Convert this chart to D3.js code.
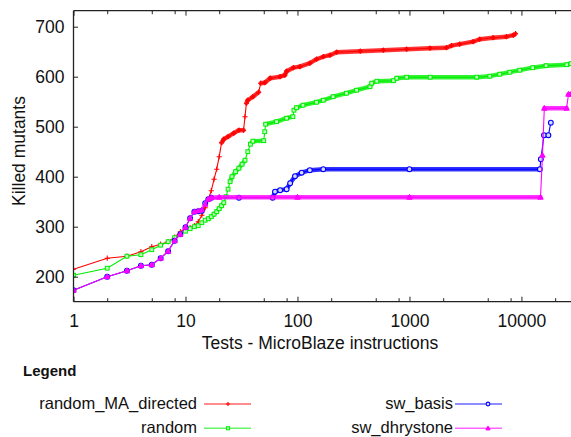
<!DOCTYPE html>
<html>
<head>
<meta charset="utf-8">
<script src="https://cdn.jsdelivr.net/npm/d3@7"></script>
<style>
  html, body { margin: 0; padding: 0; background: #fff; }
  svg { display: block; font-family: "Liberation Sans", Arial, sans-serif; }
</style>
</head>
<body>
<svg id="chart" width="571" height="437"></svg>
<script>
// ---------------- data ----------------
const seriesNames = ["random_MA_directed", "random", "sw_basis", "sw_dhrystone"];
const seriesColors = ["#ff0000", "#00ee00", "#0000ff", "#ff00ff"];

const redX = [1,2,3,4,5,6,7,8,9,10,11,12,13,14,15,16,17,18,19,20,21,22,24,27,30,33,34,35,36,40,45,47,51,57,70,77,80,92,105,129,148,170,195,224,364,585,942,1525,2140,2370,2810,3700,4240,5580,7340,8470,8850];
const redY = [215,237,241,250,260,265,270,279,290,297,298,302,310,323,338,355,372,395,415,440,468,475,480,487,493,493,520,547,553,560,569,587,588,597,600,603,611,618,620,627,635,640,643,649,651,653,655,657,658,662,665,670,675,678,680,683,686];

const greenX = [1,2,3,4,5,6,7,8,9,10,11,12,13,14,15,16,17,18,19,20,21,22,23,24,25,26,28,30,32,34,36,38,40,50,51,52,65,80,91,93,98,112,148,170,208,274,337,444,460,511,720,770,945,1530,3990,5220,6400,7870,9660,12600,16600,25400,27700];
const greenY = [203,217,241,244,254,263,270,278,285,291,296,300,302,308,313,316,320,325,330,336,342,348,360,375,390,400,410,417,425,433,450,465,471,472,490,505,510,517,520,533,538,543,549,553,560,567,573,580,587,591,592,597,599,599,599,601,605,609,613,618,622,624,626];

const blueX = [1,2,3,4,5,6,7,8,9,10,11,12,13,14,15,16,17,30,60,63,70,80,86,95,109,129,170,1000,14600,14900,15900,17400,18300];
const blueY = [173,200,212,222,224,237,251,272,285,299,317,330,331,332,347,355,358,358,358,370,373,375,387,401,408,413,415,415,415,435,483,483,508];

const magentaX = [1,2,3,4,5,6,7,8,9,10,11,12,13,14,15,16,17,20,100,1000,14800,15400,16000,25300,26300,27700];
const magentaY = [173,200,212,222,224,237,251,272,285,299,317,330,332,334,345,355,358,359,359,359,359,443,537,537,565,565];

const xMajorTicks = [1, 10, 100, 1000, 10000];
const xMinorTicks = [2,5,8,20,50,80,200,500,800,2000,5000,8000,20000];
const yTicks = [200, 300, 400, 500, 600, 700];

const xTitle = "Tests - MicroBlaze instructions";
const yTitle = "Killed mutants";
const legendTitle = "Legend";

// ---------------- chart ----------------
const svg = d3.select("#chart");
const x = d3.scaleLog().domain([1, 27700]).range([73.5, 571]);
const y = d3.scaleLinear().domain([150, 732]).range([301.7, 10.7]);

const series = [
  {name: seriesNames[0], color: seriesColors[0], xs: redX, ys: redY, marker: "plus", bandStart: 20},
  {name: seriesNames[1], color: seriesColors[1], xs: greenX, ys: greenY, marker: "square", bandStart: 16},
  {name: seriesNames[2], color: seriesColors[2], xs: blueX, ys: blueY, marker: "circle", bandStart: 60},
  {name: seriesNames[3], color: seriesColors[3], xs: magentaX, ys: magentaY, marker: "triangle", bandStart: 16}
].map(s => ({...s, pts: s.xs.map((v, i) => ({x: v, y: s.ys[i]}))}));

svg.append("defs").append("clipPath").attr("id", "clip")
  .append("rect").attr("x", 73.5).attr("y", 10.7).attr("width", 600).attr("height", 291);

const plot = svg.append("g").attr("clip-path", "url(#clip)");
const line = d3.line().x(d => x(d.x)).y(d => y(d.y));

function drawMarker(g, type, color, cx, cy, s) {
  s = s || 1;
  if (type === "plus") {
    g.append("path").attr("d", `M${cx-2.6*s},${cy}H${cx+2.6*s}M${cx},${cy-2.6*s}V${cy+2.6*s}`)
      .attr("stroke", color).attr("stroke-width", 1.1).attr("fill", "none");
  } else if (type === "square") {
    g.append("rect").attr("x", cx-1.9*s).attr("y", cy-1.9*s).attr("width", 3.8*s).attr("height", 3.8*s)
      .attr("stroke", color).attr("stroke-width", 1).attr("fill", "#bfffbf");
  } else if (type === "circle") {
    g.append("circle").attr("cx", cx).attr("cy", cy).attr("r", 2.4*s)
      .attr("stroke", color).attr("stroke-width", 1.1).attr("fill", "#d8d8ff");
  } else {
    g.append("path").attr("d", `M${cx},${cy-2.8*s}L${cx+2.7*s},${cy+2*s}L${cx-2.7*s},${cy+2*s}Z`)
      .attr("stroke", color).attr("stroke-width", 1).attr("fill", color);
  }
}

series.forEach(s => {
  const g = plot.append("g");
  // dense region (one test per sample: markers overlap into a band),
  // except on steep jumps where the samples stay visibly apart
  const dense = s.pts.filter(d => d.x >= s.bandStart);
  const segs = [];
  for (let i = 1; i < dense.length; i++) {
    const a = dense[i - 1], b = dense[i];
    const dx = Math.abs(x(b.x) - x(a.x)), dy = Math.abs(y(b.y) - y(a.y));
    if (dy <= 2.2 * dx + 1) segs.push([a, b]);
  }
  segs.forEach(sg => {
    g.append("path").datum(sg).attr("d", line)
      .attr("fill", "none").attr("stroke", s.color).attr("stroke-width", 4.4)
      .attr("stroke-opacity", 0.8).attr("stroke-linecap", "round");
  });
  g.append("path").datum(s.pts).attr("d", line)
    .attr("fill", "none").attr("stroke", s.color).attr("stroke-width", 1.1);
  s.pts.forEach(d => drawMarker(g, s.marker, s.color, x(d.x), y(d.y)));
});

// frame
const axisColor = "#222";
svg.append("line").attr("x1", 73.5).attr("x2", 73.5).attr("y1", 10.7).attr("y2", 301.7)
  .attr("stroke", axisColor).attr("stroke-width", 1.3);
svg.append("line").attr("x1", 73.5).attr("x2", 571).attr("y1", 301.7).attr("y2", 301.7)
  .attr("stroke", axisColor).attr("stroke-width", 1.3);
svg.append("line").attr("x1", 73.5).attr("x2", 571).attr("y1", 10.7).attr("y2", 10.7)
  .attr("stroke", axisColor).attr("stroke-width", 1.3);

// x ticks (bottom + top, inward)
const xAxisB = d3.axisBottom(x).tickValues(xMajorTicks).tickSize(-5).tickFormat(d3.format("d")).tickPadding(13);
const gxb = svg.append("g").attr("transform", "translate(0,301.7)").call(xAxisB);
gxb.select(".domain").remove();
gxb.selectAll("line").attr("stroke", axisColor);
gxb.selectAll("text").attr("font-size", 17.5).attr("fill", "#111").attr("font-family", "Liberation Sans, Arial, sans-serif");
const gxbm = svg.append("g").attr("transform", "translate(0,301.7)")
  .call(d3.axisBottom(x).tickValues(xMinorTicks).tickSize(-3.5).tickFormat(""));
gxbm.select(".domain").remove();
gxbm.selectAll("line").attr("stroke", axisColor);

const gxt = svg.append("g").attr("transform", "translate(0,10.7)")
  .call(d3.axisTop(x).tickValues(xMajorTicks).tickSize(-5).tickFormat(""));
gxt.select(".domain").remove();
gxt.selectAll("line").attr("stroke", axisColor);
const gxtm = svg.append("g").attr("transform", "translate(0,10.7)")
  .call(d3.axisTop(x).tickValues(xMinorTicks).tickSize(-3.5).tickFormat(""));
gxtm.select(".domain").remove();
gxtm.selectAll("line").attr("stroke", axisColor);

// y ticks
const gy = svg.append("g").attr("transform", "translate(73.5,0)")
  .call(d3.axisLeft(y).tickValues(yTicks).tickSize(-4.5).tickPadding(9));
gy.select(".domain").remove();
gy.selectAll("line").attr("stroke", axisColor);
gy.selectAll("text").attr("font-size", 17.5).attr("fill", "#111").attr("font-family", "Liberation Sans, Arial, sans-serif");

// axis titles
svg.append("text").attr("x", 320).attr("y", 348.5).attr("text-anchor", "middle")
  .attr("font-size", 17.5).attr("fill", "#111").text(xTitle);
svg.append("text").attr("transform", "translate(24.5,151) rotate(-90)").attr("text-anchor", "middle")
  .attr("font-size", 17.5).attr("fill", "#111").text(yTitle);

// legend
svg.append("text").attr("x", 23).attr("y", 375.5).attr("font-size", 15).attr("font-weight", "bold")
  .attr("fill", "#111").text(legendTitle);
const legendPos = [
  {tx: 197, ty: 408.5, lx1: 204, lx2: 251, mx: 228, ly: 404},
  {tx: 197, ty: 432.5, lx1: 204, lx2: 251, mx: 228, ly: 428.3},
  {tx: 453, ty: 408.5, lx1: 455, lx2: 502, mx: 488, ly: 404},
  {tx: 453, ty: 432.5, lx1: 455, lx2: 502, mx: 488, ly: 428.3}
];
series.forEach((s, i) => {
  const p = legendPos[i];
  const g = svg.append("g");
  g.append("text").attr("x", p.tx).attr("y", p.ty).attr("text-anchor", "end")
    .attr("font-size", 16.5).attr("fill", "#111").text(s.name);
  g.append("line").attr("x1", p.lx1).attr("x2", p.lx2).attr("y1", p.ly).attr("y2", p.ly)
    .attr("stroke", s.color).attr("stroke-width", 1.6).attr("stroke-opacity", 0.6);
  drawMarker(g, s.marker, s.color, p.mx, p.ly, 0.8);
});
</script>
</body>
</html>
